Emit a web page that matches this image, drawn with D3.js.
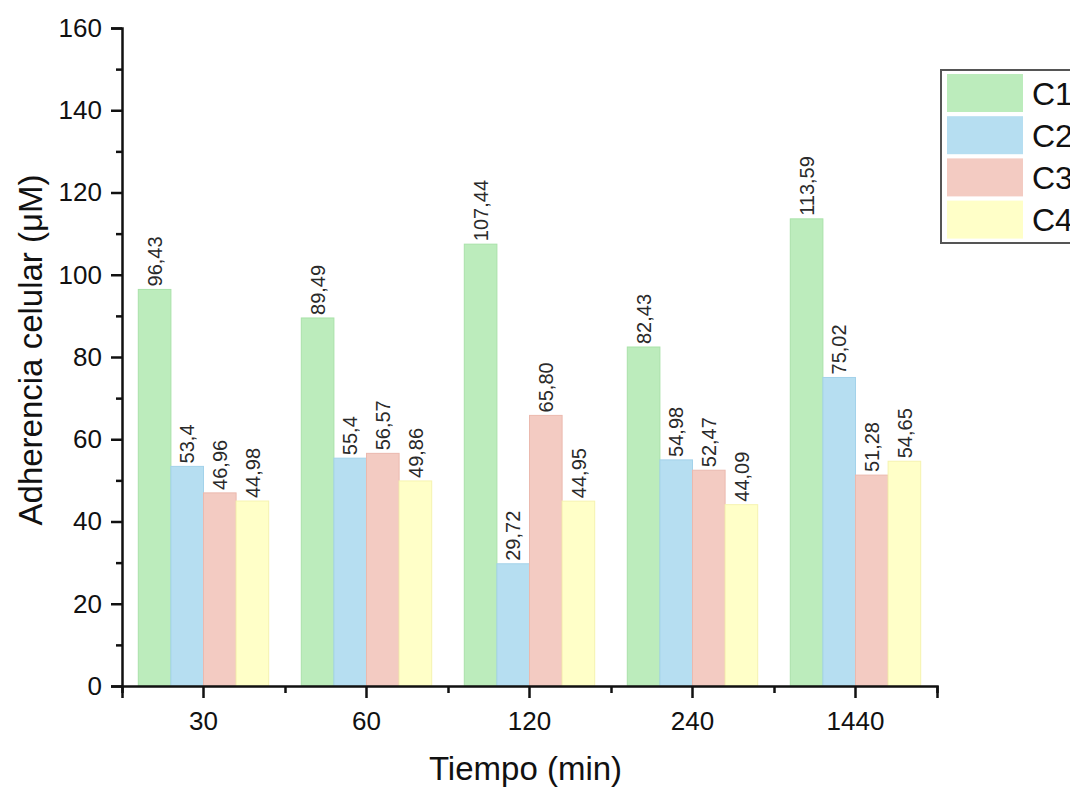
<!DOCTYPE html>
<html>
<head>
<meta charset="utf-8">
<script src="https://cdn.jsdelivr.net/npm/d3@7"></script>
<style>
  html, body { margin: 0; padding: 0; background: #fff; }
  svg { display: block; font-family: "Liberation Sans", Arial, sans-serif; }
</style>
</head>
<body>
<svg width="1070" height="787"></svg>
<script>
// data
const categories = ["30", "60", "120", "240", "1440"];
const series = ["C1", "C2", "C3", "C4"];
const c1 = [96.43, 89.49, 107.44, 82.43, 113.59];
const c2 = [53.4, 55.4, 29.72, 54.98, 75.02];
const c3 = [46.96, 56.57, 65.80, 52.47, 51.28];
const c4 = [44.98, 49.86, 44.95, 44.09, 54.65];
const labels = [
  ["96,43", "89,49", "107,44", "82,43", "113,59"],
  ["53,4", "55,4", "29,72", "54,98", "75,02"],
  ["46,96", "56,57", "65,80", "52,47", "51,28"],
  ["44,98", "49,86", "44,95", "44,09", "54,65"]
];
const colors = ["#bcecbc", "#b6def1", "#f3cbc2", "#ffffc8"];
const edges = ["#a9e2a9", "#a3d2ea", "#ebb9ae", "#f6f3b0"];

const values = [c1, c2, c3, c4];
const rows = [];
categories.forEach((cat, i) => {
  series.forEach((s, j) => {
    rows.push({ cat: cat, s: s, v: values[j][i], label: labels[j][i], k: j });
  });
});

const svg = d3.select("svg");
const margin = { left: 122, top: 28 };
const width = 815;
const height = 658;

const g = svg.append("g")
  .attr("transform", `translate(${margin.left},${margin.top})`);

const x0 = d3.scaleBand().domain(categories).range([0, width]).padding(0);
const x1 = d3.scaleBand().domain(series)
  .range([x0.bandwidth() * 0.1, x0.bandwidth() * 0.9]).padding(0);
const y = d3.scaleLinear().domain([0, 160]).range([height, 0]);

// bars
g.append("g")
  .selectAll("rect")
  .data(rows)
  .enter()
  .append("rect")
  .attr("x", d => x0(d.cat) + x1(d.s))
  .attr("y", d => y(d.v))
  .attr("width", x1.bandwidth())
  .attr("height", d => y(0) - y(d.v))
  .attr("fill", d => colors[d.k])
  .attr("stroke", d => edges[d.k])
  .attr("stroke-width", 1);

// value labels
g.append("g")
  .selectAll("text")
  .data(rows)
  .enter()
  .append("text")
  .attr("transform", d =>
    `translate(${x0(d.cat) + x1(d.s) + x1.bandwidth() / 2},${y(d.v) - 3}) rotate(-90)`)
  .attr("dy", "0.36em")
  .attr("font-size", 20)
  .attr("fill", "#2a2a2a")
  .text(d => d.label);

// y axis
const yMinor = g.append("g")
  .call(d3.axisLeft(y).tickValues(d3.range(10, 160, 20)).tickSize(6).tickFormat(""));
const yAxis = g.append("g")
  .call(d3.axisLeft(y).tickValues(d3.range(0, 161, 20)).tickSize(11).tickPadding(9));

// x axis
const xEdges = d3.scaleLinear().domain([0, categories.length]).range([0, width]);
const xMinor = g.append("g")
  .attr("transform", `translate(0,${height})`)
  .call(d3.axisBottom(xEdges).tickValues(d3.range(0, categories.length + 1))
    .tickSize(7).tickFormat(""));
const xAxis = g.append("g")
  .attr("transform", `translate(0,${height})`)
  .call(d3.axisBottom(x0).tickSize(12).tickPadding(14));

[yMinor, yAxis, xMinor, xAxis].forEach(a => {
  a.select(".domain").attr("stroke", "#111").attr("stroke-width", 2.5);
  a.selectAll(".tick line").attr("stroke", "#111").attr("stroke-width", 2.5);
  a.selectAll(".tick text")
    .attr("font-size", 26)
    .attr("font-family", "Liberation Sans, Arial, sans-serif")
    .attr("fill", "#111");
});
xMinor.select(".domain").remove();
yMinor.select(".domain").remove();

// axis titles
svg.append("text")
  .attr("x", margin.left + width / 2 - 4)
  .attr("y", 780)
  .attr("text-anchor", "middle")
  .attr("font-size", 33)
  .attr("fill", "#111")
  .text("Tiempo (min)");

svg.append("text")
  .attr("transform", "translate(42,350) rotate(-90)")
  .attr("text-anchor", "middle")
  .attr("font-size", 33)
  .attr("fill", "#111")
  .text("Adherencia celular (μM)");

// legend
const legend = svg.append("g").attr("transform", "translate(941,70)");
legend.append("rect")
  .attr("x", 0).attr("y", 0)
  .attr("width", 160).attr("height", 173)
  .attr("fill", "#fff")
  .attr("stroke", "#555")
  .attr("stroke-width", 2);
const item = legend.selectAll("g.item")
  .data(series)
  .enter()
  .append("g")
  .attr("class", "item")
  .attr("transform", (d, i) => `translate(6,${4 + i * 42.2})`);
item.append("rect")
  .attr("width", 76).attr("height", 38)
  .attr("fill", (d, i) => colors[i]);
item.append("text")
  .attr("x", 85)
  .attr("y", 19)
  .attr("dy", "0.36em")
  .attr("font-size", 32)
  .attr("fill", "#111")
  .text(d => d);
</script>
</body>
</html>
